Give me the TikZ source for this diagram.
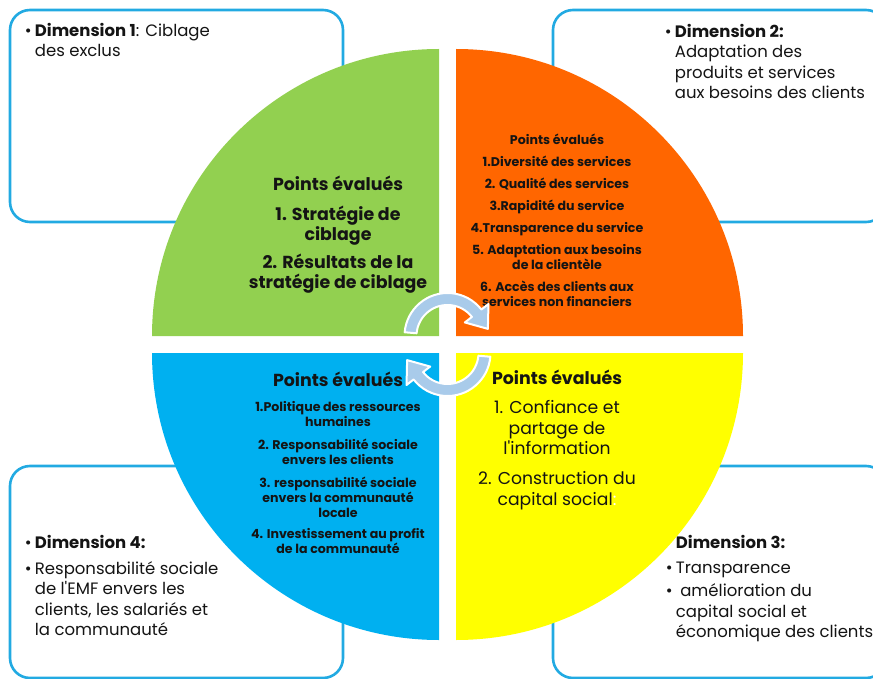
\documentclass[tikz,border=0pt]{standalone}
\usepackage{fontspec}
\setmainfont{Poppins}[Ligatures=TeXOff]
\usepackage{tikz}
\usetikzlibrary{positioning}

\definecolor{ink}   {HTML}{141414}
\definecolor{cadre} {HTML}{22AAE2}
\definecolor{quartA}{HTML}{92D050}
\definecolor{quartB}{HTML}{FF6600}
\definecolor{quartC}{HTML}{FFFF00}
\definecolor{quartD}{HTML}{00B0F0}
\definecolor{boucle}{HTML}{A9CBEA}

\newcommand{\puce}{\makebox[10pt][l]{\textbullet}}
\newcommand{\decal}{\hspace*{10pt}}

\tikzset{
  dimbox/.style  ={draw=cadre, fill=white, line width=2.6pt,
                   rounded corners=20pt, minimum width=333pt, minimum height=212pt},
  dimtxt/.style  ={font=\fontsize{16.5}{20.5}\selectfont, text=ink,
                   align=left, anchor=base west, inner sep=0pt},
  titre/.style   ={font=\bfseries\fontsize{17.4}{20}\selectfont, text=ink,
                   align=center, anchor=base, inner sep=0pt},
  liste/.style   ={font=\bfseries\fontsize{12.6}{15}\selectfont, text=ink,
                   align=center, anchor=base, inner sep=0pt},
  listebig/.style={titre, font=\fontsize{17.2}{20.5}\selectfont},
  fleche/.style  ={fill=boucle, draw=white, line width=2pt, line join=round},
}

\begin{document}
\begin{tikzpicture}[x=1pt,y=-1pt]
  \useasboundingbox (0,0) rectangle (873,679);
  \clip (0,0) rectangle (873,679);

  % the four dimension frames, behind the wheel
  \node[dimbox] (dim1) at (176.5,116) {};
  \node[dimbox] (dim2) at (719.5,116) {};
  \node[dimbox] (dim3) at (719.5,572) {};
  \node[dimbox] (dim4) at (176.5,572) {};

  % texts sit on the baseline of their last line
  \node[dimtxt] (txt1) at ([shift={(16,48)}]dim1.north west)
    {\puce\textbf{Dimension 1}: Ciblage\\\decal des exclus};
  \node[dimtxt] (txt2) at ([shift={(113,90)}]dim2.north west)
    {\puce\textbf{Dimension 2:}\\\decal Adaptation des\\\decal produits et services\\\decal aux besoins des clients};
  \node[dimtxt] (txt3) at ([shift={(114,173)}]dim3.north west)
    {\decal\textbf{Dimension 3:}\\[4pt]\puce Transparence\\[3pt]\puce\ amélioration du\\\decal capital social et\\\decal économique des clients};
  \node[dimtxt] (txt4) at ([shift={(16,171)}]dim4.north west)
    {\puce\textbf{Dimension 4:}\\[5pt]\puce Responsabilité sociale\\\decal de l'EMF envers les\\\decal clients, les salariés et\\\decal la communauté};

  % wheel quarters
  \fill[quartA] (439,336) -- (152,336) arc[start angle=180, end angle=270, radius=287] -- cycle;
  \fill[quartB] (456,336) -- (456,49)  arc[start angle=270, end angle=360, radius=287] -- cycle;
  \fill[quartC] (456,353) -- (743,353) arc[start angle=0,   end angle=90,  radius=287] -- cycle;
  \fill[quartD] (439,353) -- (439,640) arc[start angle=90,  end angle=180, radius=287] -- cycle;

  % green
  \node[titre] (titreA) at (338,191) {Points évalués};
  \node[titre] (listeA) at (338,288)
    {1. Stratégie de\\ciblage\\[8pt]2. Résultats de la\\stratégie de ciblage};
  % orange
  \node[liste] (listeB) at (557,306)
    {Points évalués\\[7pt]1.Diversité des services\\[7pt]2. Qualité des services\\[7pt]3.Rapidité du service\\[7pt]4.Transparence du service\\[7pt]5. Adaptation aux besoins\\de la clientèle\\[7pt]6. Accès des clients aux\\services non financiers};
  % yellow
  \node[titre] (titreC) at (557,384) {Points évalués};
  \node[listebig] (listeC) at (557,505)
    {1. Confiance et\\partage de\\l'information\\[9.5pt]2. Construction du\\capital social{\color{white}:}};
  % blue
  \node[titre] (titreD) at (338,386) {Points évalués};
  \node[liste] (listeD) at (338,553)
    {1.Politique des ressources\\humaines\\[8pt]2. Responsabilité sociale\\envers les clients\\[8pt]3. responsabilité sociale\\envers la communauté\\locale\\[6pt]4. Investissement au profit\\de la communauté};

  % circular arrows in the middle
  \begin{scope}[shift={(447.5,336)}]
    \filldraw[fleche] (185:43) arc[start angle=185, end angle=322, radius=43]
      -- (322:52) -- (350:41) -- (322:22) -- (322:31)
      arc[start angle=322, end angle=185, radius=31] -- cycle;
  \end{scope}
  \begin{scope}[shift={(447.5,353)}, rotate=180]
    \filldraw[fleche] (185:43) arc[start angle=185, end angle=322, radius=43]
      -- (322:52) -- (350:41) -- (322:22) -- (322:31)
      arc[start angle=322, end angle=185, radius=31] -- cycle;
  \end{scope}
\end{tikzpicture}
\end{document}
